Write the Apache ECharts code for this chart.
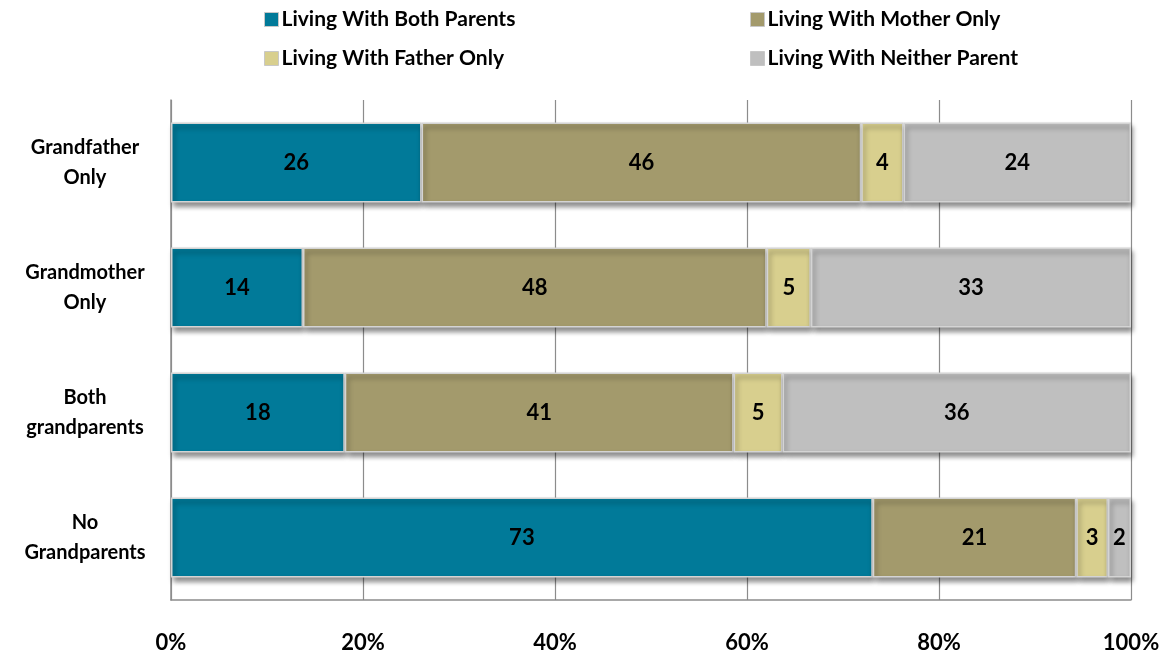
<!DOCTYPE html>
<html><head><meta charset="utf-8">
<script src="https://cdn.jsdelivr.net/npm/echarts@6/dist/echarts.min.js"></script>
<style>html,body{margin:0;padding:0;background:#fff}#c{width:1166px;height:657px}</style>
</head><body><div id="c"></div>
<script>
const categories = ['Grandfather\nOnly', 'Grandmother\nOnly', 'Both\ngrandparents', 'No\nGrandparents'];
const seriesNames = ['Living With Both Parents', 'Living With Mother Only', 'Living With Father Only', 'Living With Neither Parent'];
const bothParents = [26.1, 13.75, 18.1, 73.1];
const motherOnly = [45.8, 48.3, 40.5, 21.2];
const fatherOnly = [4.4, 4.6, 5.1, 3.3];
const neitherParent = [23.7, 33.35, 36.3, 2.4];
const labelValues = [[26, 14, 18, 73], [46, 48, 41, 21], [4, 5, 5, 3], [24, 33, 36, 2]];
const xTicks = [0, 20, 40, 60, 80, 100];
const colors = ['#017A99', '#A39A6C', '#D8CF8E', '#BFBFBF'];

const font = 'Lato, "Open Sans", sans-serif';
const values = [bothParents, motherOnly, fatherOnly, neitherParent];
const legendPos = [[259, 4], [745, 4], [259, 43], [745, 43]];

const chart = echarts.init(document.getElementById('c'), null, {renderer: 'canvas'});
chart.setOption({
  animation: false,
  color: colors,
  legend: seriesNames.map((n, i) => ({
    data: [n], left: legendPos[i][0], top: legendPos[i][1],
    itemWidth: 14, itemHeight: 14, itemGap: 6,
    icon: 'rect',
    itemStyle: {borderColor: '#c8c8c8', borderWidth: 1},
    textStyle: {fontFamily: font, fontWeight: 'bold', fontSize: 21, color: '#000', padding: [0, 0, 0, -2]},
    selectedMode: false
  })),
  grid: {left: 171, right: 35, top: 100, bottom: 57, containLabel: false},
  xAxis: {
    type: 'value', min: 0, max: 100, interval: 20,
    axisLine: {show: true, lineStyle: {color: '#8c8c8c', width: 1.5}},
    axisTick: {show: false},
    splitLine: {show: true, lineStyle: {color: '#8c8c8c', width: 1.2}},
    axisLabel: {formatter: v => xTicks.includes(v) ? v + '%' : '', fontFamily: font, fontWeight: 'bold', fontSize: 22, color: '#000', margin: 32}
  },
  yAxis: {
    type: 'category', data: categories, inverse: true,
    axisLine: {show: true, lineStyle: {color: '#8c8c8c', width: 1.5}},
    axisTick: {show: false},
    axisLabel: {fontFamily: font, fontWeight: 'bold', fontSize: 20, color: '#000', align: 'center', margin: 86, lineHeight: 30}
  },
  series: values.map((d, i) => ({
    name: seriesNames[i], type: 'bar', stack: 'total', data: d,
    barCategoryGap: '36%',
    itemStyle: {borderColor: '#d4d4d4', borderWidth: 1.5, shadowColor: 'rgba(0,0,0,0.45)', shadowBlur: 5, shadowOffsetX: 2, shadowOffsetY: 4},
    label: {show: true, position: 'inside', formatter: p => labelValues[i][p.dataIndex], fontFamily: font, fontWeight: 'bold', fontSize: 22, color: '#000'}
  }))
});
</script></body></html>
